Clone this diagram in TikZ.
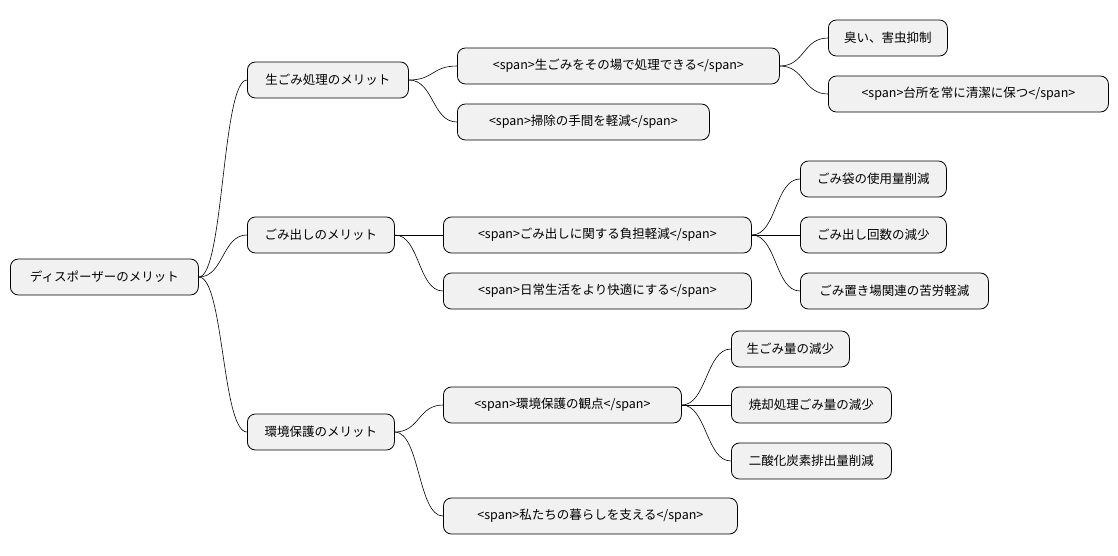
\documentclass[tikz,border=0pt]{standalone}
\usepackage{fontspec}
\setmainfont{Noto Sans CJK JP}
\begin{document}
\begin{tikzpicture}[x=1pt,y=-1pt,
  box/.style={draw=black,line width=0.8pt,fill={rgb,255:red,241;green,241;blue,241},rounded corners=8pt,minimum height=36pt,inner sep=0pt,anchor=west,font=\fontsize{12.5}{15}\selectfont},
  con/.style={draw=black,line width=0.6pt}]
\useasboundingbox (0,0) rectangle (1118,555);
\node[box,minimum width=188pt] (r) at (10,277) {ディスポーザーのメリット};
\node[box,minimum width=161pt] (a) at (247,80) {生ごみ処理のメリット};
\node[box,minimum width=147pt] (b) at (247,235) {ごみ出しのメリット};
\node[box,minimum width=147pt] (c) at (247,432) {環境保護のメリット};
\node[box,minimum width=322pt] (a1) at (457,66) {<span>生ごみをその場で処理できる</span>};
\node[box,minimum width=252pt] (a2) at (457,122) {<span>掃除の手間を軽減</span>};
\node[box,minimum width=308pt] (b1) at (443,235) {<span>ごみ出しに関する負担軽減</span>};
\node[box,minimum width=308pt] (b2) at (443,291) {<span>日常生活をより快適にする</span>};
\node[box,minimum width=238pt] (c1) at (443,405) {<span>環境保護の観点</span>};
\node[box,minimum width=294pt] (c2) at (443,516) {<span>私たちの暮らしを支える</span>};
\node[box,minimum width=119pt] (a11) at (828,38) {臭い、害虫抑制};
\node[box,minimum width=280pt] (a12) at (828,94) {<span>台所を常に清潔に保つ</span>};
\node[box,minimum width=146pt] (b11) at (800,179) {ごみ袋の使用量削減};
\node[box,minimum width=146pt] (b12) at (800,235) {ごみ出し回数の減少};
\node[box,minimum width=188pt] (b13) at (800,291) {ごみ置き場関連の苦労軽減};
\node[box,minimum width=118pt] (c11) at (731,349) {生ごみ量の減少};
\node[box,minimum width=160pt] (c12) at (731,405) {焼却処理ごみ量の減少};
\node[box,minimum width=160pt] (c13) at (731,461) {二酸化炭素排出量削減};
\foreach \p/\c in {r/a,r/b,r/c,a/a1,a/a2,b/b1,b/b2,c/c1,c/c2,a1/a11,a1/a12,b1/b11,b1/b12,b1/b13,c1/c11,c1/c12,c1/c13}
  \draw[con] (\p.east) .. controls +(25,0) and +(-25,0) .. (\c.west);
\end{tikzpicture}
\end{document}
